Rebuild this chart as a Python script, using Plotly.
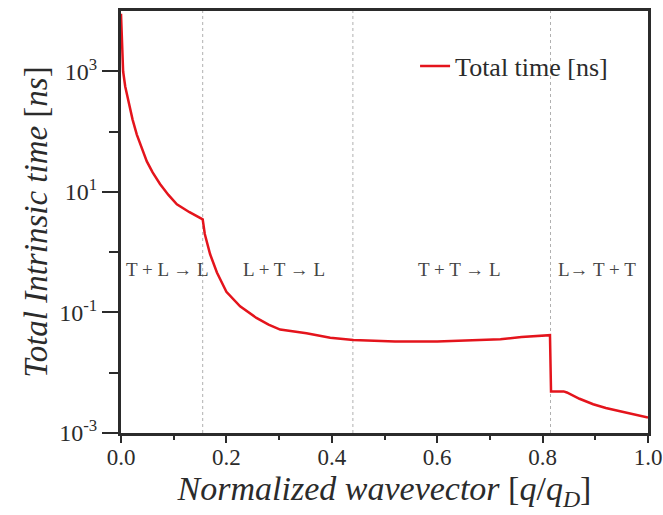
import plotly.graph_objects as go

# Total intrinsic time vs normalized wavevector
q = [0.0, 0.001, 0.004, 0.008, 0.014, 0.022, 0.030, 0.040, 0.049, 0.060,
     0.074, 0.090, 0.106, 0.130, 0.150, 0.155, 0.159, 0.164, 0.169, 0.182,
     0.200, 0.226, 0.257, 0.280, 0.302, 0.352, 0.397, 0.441, 0.472, 0.520,
     0.600, 0.680, 0.720, 0.760, 0.800, 0.814, 0.816, 0.840, 0.846, 0.870,
     0.896, 0.920, 0.947, 0.975, 1.0]
total_time = [9000, 4000, 1000, 560, 316, 158, 89, 52, 32, 21,
              13.5, 8.9, 6.2, 4.6, 3.6, 3.5, 2.0, 1.3, 0.93, 0.46,
              0.22, 0.126, 0.081, 0.063, 0.052, 0.045, 0.038, 0.035, 0.034, 0.033,
              0.033, 0.035, 0.036, 0.039, 0.041, 0.042, 0.0049, 0.0049, 0.0047, 0.0037,
              0.0030, 0.0026, 0.0023, 0.0020, 0.0018]

# process boundaries and region labels
boundaries = [0.155, 0.44, 0.815]
region_labels = ["T + L \u2192 L", "L + T \u2192 L", "T + T \u2192 L", "L\u2192 T + T"]
region_x = [0.089, 0.309, 0.643, 0.903]
region_y_log10 = -0.28  # annotation height on the log axis (log10 units)

y_tickvals = [1e-3, 1e-1, 1e1, 1e3]
y_ticktext = ["10<sup>-3</sup>", "10<sup>-1</sup>", "10<sup>1</sup>", "10<sup>3</sup>"]
y_minor = [1e-2, 1, 1e2]
x_tickvals = [0.0, 0.2, 0.4, 0.6, 0.8, 1.0]
x_ticktext = ["0.0", "0.2", "0.4", "0.6", "0.8", "1.0"]
x_minor = [0.1, 0.3, 0.5, 0.7, 0.9]

SERIF = "Liberation Serif, Times New Roman, serif"
INK = "#2b2b2b"

fig = go.Figure()
fig.add_trace(go.Scatter(
    x=q, y=total_time, mode="lines", name="Total time [ns]",
    line=dict(color="#e4141c", width=2.5),
))

for b in boundaries:
    fig.add_vline(x=b, line=dict(color="#b0b0b0", width=1, dash="dot"), layer="below")

for lbl, xv in zip(region_labels, region_x):
    fig.add_annotation(x=xv, y=region_y_log10, yref="y", xref="x", text=lbl,
                       showarrow=False, font=dict(family=SERIF, size=19, color="#444"))

fig.update_layout(
    width=663, height=515,
    margin=dict(l=121, r=15, t=11, b=82, autoexpand=False),
    paper_bgcolor="white", plot_bgcolor="white",
    showlegend=True,
    legend=dict(x=0.558, y=0.925, xanchor="left", yanchor="top",
                bgcolor="rgba(0,0,0,0)", font=dict(family=SERIF, size=26, color=INK),
                itemwidth=30),
    font=dict(family=SERIF, color=INK),
)

fig.update_xaxes(
    range=[0, 1], tickvals=x_tickvals, ticktext=x_ticktext, automargin=False,
    ticks="outside", ticklen=7, tickwidth=2, tickcolor=INK, ticklabelstandoff=-6,
    minor=dict(tickvals=x_minor, ticks="outside", ticklen=4,
               tickwidth=2, tickcolor=INK),
    showline=True, linewidth=3, linecolor=INK, mirror=True,
    showgrid=False, zeroline=False,
    tickfont=dict(family=SERIF, size=23, color=INK),
    title=dict(text="<i>Normalized wavevector</i> [<i>q</i>/<i>q<sub>D</sub></i>]",
               font=dict(family=SERIF, size=34, color=INK), standoff=2),
)
fig.update_yaxes(
    type="log", range=[-3, 4], tickvals=y_tickvals, ticktext=y_ticktext, automargin=False,
    ticks="outside", ticklen=16, tickwidth=2, tickcolor=INK,
    minor=dict(tickvals=y_minor, ticks="outside", ticklen=9, tickwidth=2, tickcolor=INK),
    showline=True, linewidth=3, linecolor=INK, mirror=True,
    showgrid=False, zeroline=False,
    tickfont=dict(family=SERIF, size=24, color=INK),
    title=dict(text="<i>Total Intrinsic time</i> [<i>ns</i>]",
               font=dict(family=SERIF, size=33, color=INK), standoff=2),
)

fig.write_html("out.html")
